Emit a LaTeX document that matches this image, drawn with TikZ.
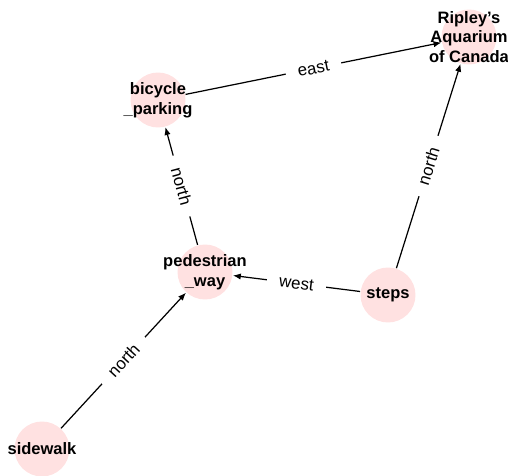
\documentclass[tikz,border=0pt]{standalone}
\usepackage{fontspec}
\setmainfont{Liberation Sans}
\usetikzlibrary{arrows.meta}

\definecolor{spotpink}{RGB}{255,225,225}

\begin{document}
\begin{tikzpicture}[
  x=0.02cm, y=-0.02cm,
  >={Latex[length=4.5pt, width=3.6pt]},
  line width=0.7pt,
  spot/.style={circle, fill=spotpink, minimum size=1.1cm, inner sep=0pt},
  place/.style={font=\fontsize{9.4}{11.3}\selectfont\bfseries, align=center, inner sep=0pt},
  dir/.style={midway, sloped, fill=white, font=\fontsize{9.6}{10}\selectfont,
    inner xsep=7pt, inner ysep=1pt}
]
\useasboundingbox (0,0) rectangle (508,476);

% --- Places ---
\node[spot] (sidewalk)   at (42, 449)  {};
\node[spot] (pedestrian) at (205, 272) {};
\node[spot] (bicycle)    at (158, 100) {};
\node[spot] (steps)      at (388, 295) {};
\node[spot] (ripley)     at (469, 37)  {};

% --- Directions between places ---
\draw[->] (sidewalk)   -- node[dir] {north} (pedestrian);
\draw[->] (steps)      -- node[dir] {west}  (pedestrian);
\draw[->] (pedestrian) -- node[dir] {north} (bicycle);
\draw[->] (bicycle)    -- node[dir] {east}  (ripley);
\draw[->] (steps)      -- node[dir] {north} (ripley);

% --- Names on top ---
\node[place] at (sidewalk)   {sidewalk};
\node[place] at (pedestrian) {pedestrian\\\_way};
\node[place] at (bicycle)    {bicycle\\\_parking};
\node[place] at (steps)      {steps};
\node[place] at (ripley)     {Ripley’s\\Aquarium\\of Canada};

\end{tikzpicture}
\end{document}
